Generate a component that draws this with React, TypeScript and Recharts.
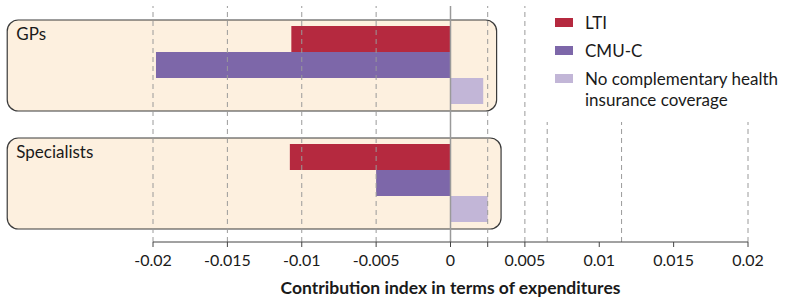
import { BarChart, Bar, XAxis, YAxis, ReferenceLine, ReferenceArea, Legend } from "recharts";

const categories = ["GPs", "Specialists"];
const ltiValues = [-0.0107, -0.0108];
const cmucValues = [-0.0198, -0.005];
const noCoverValues = [0.0022, 0.0025];

const seriesKeys = ["lti", "cmuc", "noCover"];
const seriesNames = ["LTI", "CMU-C", "No complementary health insurance coverage"];
const seriesColors = ["#B5293F", "#7D67A9", "#C2B6D7"];

const xTicks = [-0.02, -0.015, -0.01, -0.005, 0, 0.0025, 0.005, 0.01, 0.015, 0.02];
const xTickLabels = ["-0.02", "-0.015", "-0.01", "-0.005", "0", "", "0.005", "0.01", "0.015", "0.02"];
const dashedLines = [-0.02, -0.015, -0.01, -0.005, 0.0025, 0.005, 0.0065, 0.0115, 0.02];

// extent of the rounded group boxes, in axis units
const boxLeft = -0.0298;
const boxRight = [0.0031, 0.0034];

const data = categories.map((name, i) => ({
  name,
  lti: ltiValues[i],
  cmuc: cmucValues[i],
  noCover: noCoverValues[i],
}));

const font = "Lato, 'Open Sans', sans-serif";

const groupBox = (label: string) => (props: any) => {
  const { x, y, width, height } = props;
  return (
    <g>
      <rect x={x} y={y + 14} width={width} height={height - 27} rx={11} ry={11}
        fill="#FDF0DF" stroke="#3a3a3a" strokeWidth={1.2} />
      <text x={x + 9} y={y + 34} fontSize={17} fill="#1a1a1a" fontFamily={font}>{label}</text>
    </g>
  );
};

const renderLegend = () => (
  <div style={{ background: "#fff", width: 257, height: 122, boxSizing: "border-box", padding: "12px 0 0 20px",
    fontFamily: font, fontSize: 17, color: "#1a1a1a", lineHeight: "21px" }}>
    {seriesNames.map((n, i) => (
      <div key={n} style={{ display: "flex", alignItems: "flex-start", marginBottom: 7 }}>
        <div style={{ width: 18, height: 9, marginTop: 6, background: seriesColors[i], flex: "none" }} />
        <div style={{ marginLeft: 12, width: 205 }}>{n}</div>
      </div>
    ))}
  </div>
);

export default function App() {
  return (
    <div style={{ position: "absolute", left: 0, top: 0 }}>
      <BarChart width={792} height={302} data={data} layout="vertical"
        margin={{ top: 6, right: 44, bottom: 4, left: 153 }}
        barCategoryGap={20} barGap={0} style={{ fontFamily: font }}>
        <XAxis type="number" domain={[-0.02, 0.02]} ticks={xTicks} allowDataOverflow
          tickFormatter={(v: number) => xTickLabels[xTicks.indexOf(v)] ?? ""}
          tick={{ fill: "#1a1a1a", fontSize: 16 }} tickSize={5} tickMargin={8} height={56}
          axisLine={{ stroke: "#444" }} tickLine={{ stroke: "#444" }}
          label={{ value: "Contribution index in terms of expenditures", position: "insideBottom", offset: 4,
            fontWeight: 700, fontSize: 17.5, fill: "#1a1a1a" }} />
        <YAxis type="category" dataKey="name" hide />
        {categories.map((c, i) => (
          <ReferenceArea key={c} x1={boxLeft} x2={boxRight[i]} y1={c} y2={c} ifOverflow="visible"
            shape={groupBox(c)} />
        ))}
        {dashedLines.map((v) => (
          <ReferenceLine key={v} x={v} stroke="#9a9a9a" strokeDasharray="5 4" ifOverflow="visible" />
        ))}
        <ReferenceLine x={0} stroke="#9a9a9a" strokeWidth={1.5} />
        {seriesKeys.map((k, i) => (
          <Bar key={k} dataKey={k} name={seriesNames[i]} fill={seriesColors[i]} isAnimationActive={false} />
        ))}
        <Legend layout="vertical" align="center" verticalAlign="middle" content={renderLegend}
          wrapperStyle={{ left: 535, top: 0, width: 257, height: 122 }} />
      </BarChart>
    </div>
  );
}
